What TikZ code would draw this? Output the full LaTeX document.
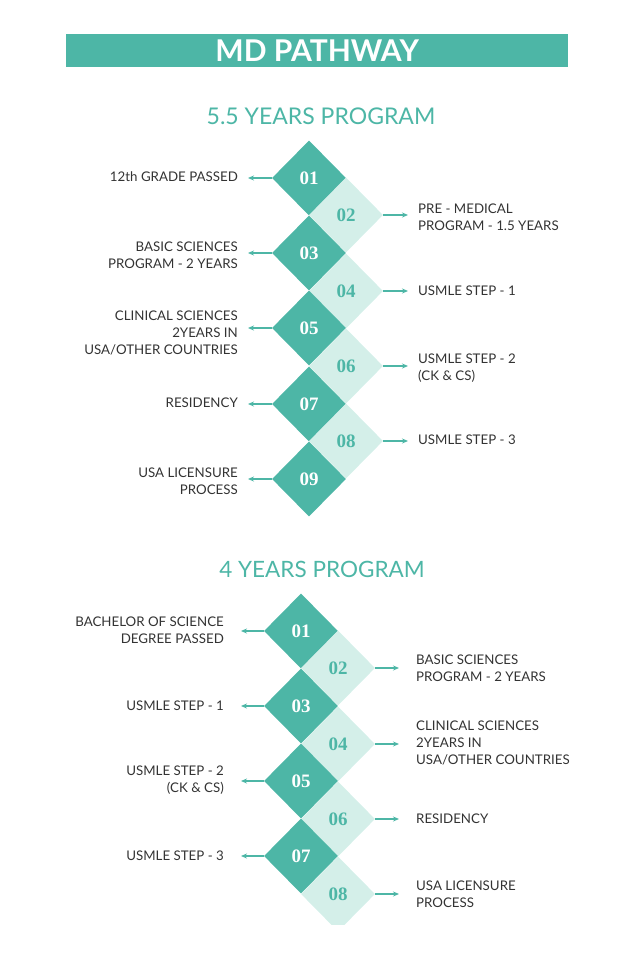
\documentclass[tikz,border=0pt]{standalone}
\usepackage{fontspec}
\setmainfont{Lato}
\newfontfamily\numfont{Liberation Serif}
\usetikzlibrary{shapes.geometric,arrows.meta}

\definecolor{tealdark}{HTML}{4DB6A6}
\definecolor{teallight}{HTML}{D4EFE9}
\definecolor{labelgray}{HTML}{333333}

\tikzset{
  darkstep/.style={diamond, fill=tealdark, minimum width=74pt, minimum height=75pt, inner sep=0pt,
    text=white, font=\numfont\bfseries\fontsize{19}{19}\selectfont},
  lightstep/.style={darkstep, fill=teallight, text=tealdark},
  lefttext/.style={anchor=east, align=right, inner sep=0pt, text=labelgray, font=\fontsize{13.3}{17}\selectfont},
  righttext/.style={lefttext, anchor=west, align=left},
  pointer/.style={-{Stealth[length=6pt,width=5pt]}, tealdark, line width=1.1pt, shorten >=#1},
  heading/.style={text=tealdark, font=\fontsize{23}{24}\selectfont}
}

\begin{document}
\begin{tikzpicture}[x=1pt,y=-1pt]
  \useasboundingbox (0,0) rectangle (638,960);

  \node [fill=tealdark, minimum width=502pt, minimum height=33pt, inner sep=0pt, anchor=north west] (bar) at (66,34) {};
  \node [text=white, font=\bfseries\fontsize{30}{30}\selectfont] (maintitle) at (bar.center) {MD PATHWAY};

  % 5.5 years program
  \node [heading] (head1) at (321,116) {5.5 YEARS PROGRAM};

  \node [darkstep]  (a1) at (309,178) {01};
  \node [lightstep] (a2) at (346,215) {02};
  \node [darkstep]  (a3) at (309,253) {03};
  \node [lightstep] (a4) at (346,291) {04};
  \node [darkstep]  (a5) at (309,328) {05};
  \node [lightstep] (a6) at (346,366) {06};
  \node [darkstep]  (a7) at (309,404) {07};
  \node [lightstep] (a8) at (346,441) {08};
  \node [darkstep]  (a9) at (309,479) {09};

  \node [lefttext]  (la1) at (238,177) {12th GRADE PASSED};
  \node [righttext] (la2) at (418,217) {PRE - MEDICAL\\PROGRAM - 1.5 YEARS};
  \node [lefttext]  (la3) at (238,255) {BASIC SCIENCES\\PROGRAM - 2 YEARS};
  \node [righttext] (la4) at (418,291) {USMLE STEP - 1};
  \node [lefttext]  (la5) at (238,333) {CLINICAL SCIENCES\\2YEARS IN\\USA/OTHER COUNTRIES};
  \node [righttext] (la6) at (418,368) {USMLE STEP - 2\\(CK \& CS)};
  \node [lefttext]  (la7) at (238,403) {RESIDENCY};
  \node [righttext] (la8) at (418,440) {USMLE STEP - 3};
  \node [lefttext]  (la9) at (238,481) {USA LICENSURE\\PROCESS};

  \foreach \i in {1,3,5,7,9}
    \draw [pointer=10pt] (a\i.west) -- (a\i.west -| la\i.east);
  \foreach \i in {2,4,6,8}
    \draw [pointer=10pt] (a\i.east) -- (a\i.east -| la\i.west);

  % 4 years program
  \node [heading, font=\fontsize{22.5}{24}\selectfont] (head2) at (322,569) {4 YEARS PROGRAM};

  \begin{scope}
    \clip (0,0) rectangle (638,924);
    \node [darkstep]  (b1) at (301,631) {01};
    \node [lightstep] (b2) at (338,668) {02};
    \node [darkstep]  (b3) at (301,706) {03};
    \node [lightstep] (b4) at (338,744) {04};
    \node [darkstep]  (b5) at (301,781) {05};
    \node [lightstep] (b6) at (338,819) {06};
    \node [darkstep]  (b7) at (301,856) {07};
    \node [lightstep] (b8) at (338,894) {08};
  \end{scope}

  \node [lefttext]  (lb1) at (224,630) {BACHELOR OF SCIENCE\\DEGREE PASSED};
  \node [righttext] (lb2) at (416,668) {BASIC SCIENCES\\PROGRAM - 2 YEARS};
  \node [lefttext]  (lb3) at (224,706) {USMLE STEP - 1};
  \node [righttext] (lb4) at (416,743) {CLINICAL SCIENCES\\2YEARS IN\\USA/OTHER COUNTRIES};
  \node [lefttext]  (lb5) at (224,780) {USMLE STEP - 2\\(CK \& CS)};
  \node [righttext] (lb6) at (416,819) {RESIDENCY};
  \node [lefttext]  (lb7) at (224,856) {USMLE STEP - 3};
  \node [righttext] (lb8) at (416,894) {USA LICENSURE\\PROCESS};

  \foreach \i in {1,3,5,7}
    \draw [pointer=17pt] (b\i.west) -- (b\i.west -| lb\i.east);
  \foreach \i in {2,4,6,8}
    \draw [pointer=17pt] (b\i.east) -- (b\i.east -| lb\i.west);
\end{tikzpicture}
\end{document}
